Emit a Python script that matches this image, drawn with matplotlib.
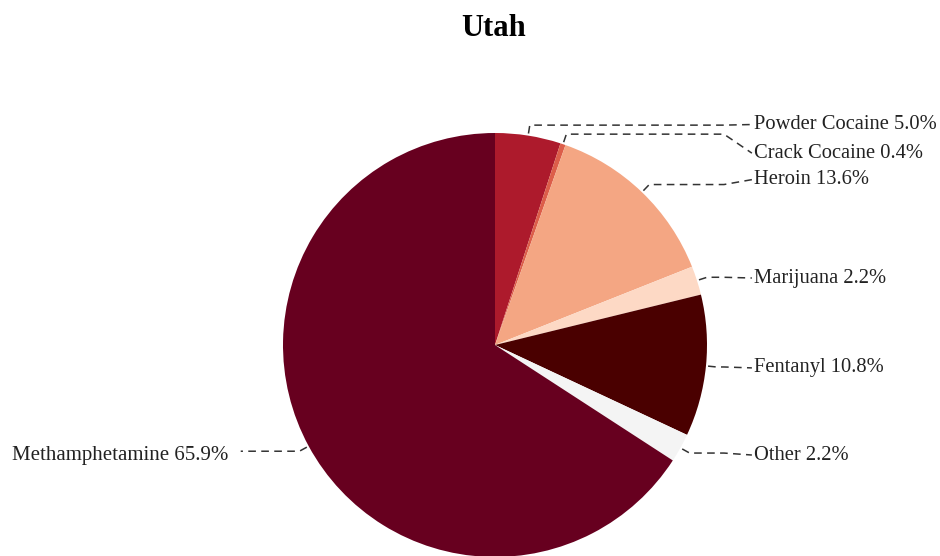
import numpy as np
import matplotlib
matplotlib.use('Agg')
import matplotlib.pyplot as plt

plt.rcParams['font.family'] = ['Liberation Serif', 'DejaVu Serif']

labels = ['Powder Cocaine', 'Crack Cocaine', 'Heroin', 'Marijuana',
          'Fentanyl', 'Other', 'Methamphetamine']
shares = [5.0, 0.4, 13.6, 2.2, 10.8, 2.2, 65.9]
colors = ['#ad1a2c', '#dc5e4a', '#f4a683', '#fdd9c5',
          '#4a0000', '#f4f4f4', '#67001f']
title = 'Utah'

# label heights (data units, pie radius = 1)
label_y = [1.040, 0.905, 0.780, 0.316, -0.108, -0.519, -0.519]

W, H = 940, 556
R = 212.0
cx, cy = 495, 345

fig = plt.figure(figsize=(W / 100, H / 100), dpi=100)
ax = fig.add_axes([0, 0, 1, 1])

wedges, _ = ax.pie(shares, colors=colors, startangle=90, counterclock=False,
                   radius=1.0, wedgeprops=dict(linewidth=0))
# pie resets limits, so set them afterwards
ax.set_xlim(-cx / R, (W - cx) / R)
ax.set_ylim(-(H - cy) / R, cy / R)
ax.set_aspect('equal', adjustable='datalim')
ax.axis('off')

label_x = (754 - cx) / R
corner_x = 1.08
total = sum(shares)
cum = 0.0
dash = (0, (5, 3.5))
for lab, val, ly in zip(labels, shares, label_y):
    mid = 90 - (cum + val / 2) / total * 360
    cum += val
    t = np.deg2rad(mid)
    ax_, ay_ = 1.01 * np.cos(t), 1.01 * np.sin(t)
    bx, by = 1.05 * np.cos(t), 1.05 * np.sin(t)
    if np.cos(t) >= 0:
        xs = [ax_, bx, corner_x, label_x - 0.01]
        ys = [ay_, by, by, ly]
        ax.plot(xs, ys, ls=dash, color='#333333', lw=1.1)
        ax.text(label_x, ly, f'{lab} {val:.1f}%', ha='left', va='center',
                fontsize=14.8, color='#222222')
    else:
        lx = (228 - cx) / R
        xs = [ax_, bx, lx + 0.06]
        ys = [ay_, by, by]
        ax.plot(xs, ys, ls=dash, color='#333333', lw=1.1)
        ax.text(lx, ly, f'{lab} {val:.1f}%', ha='right', va='center',
                fontsize=15, color='#222222')

fig.text(494 / W, 1 - 28 / H, title, ha='center', va='center',
         fontsize=22, fontweight='bold')

fig.savefig('out.png', dpi=100)
